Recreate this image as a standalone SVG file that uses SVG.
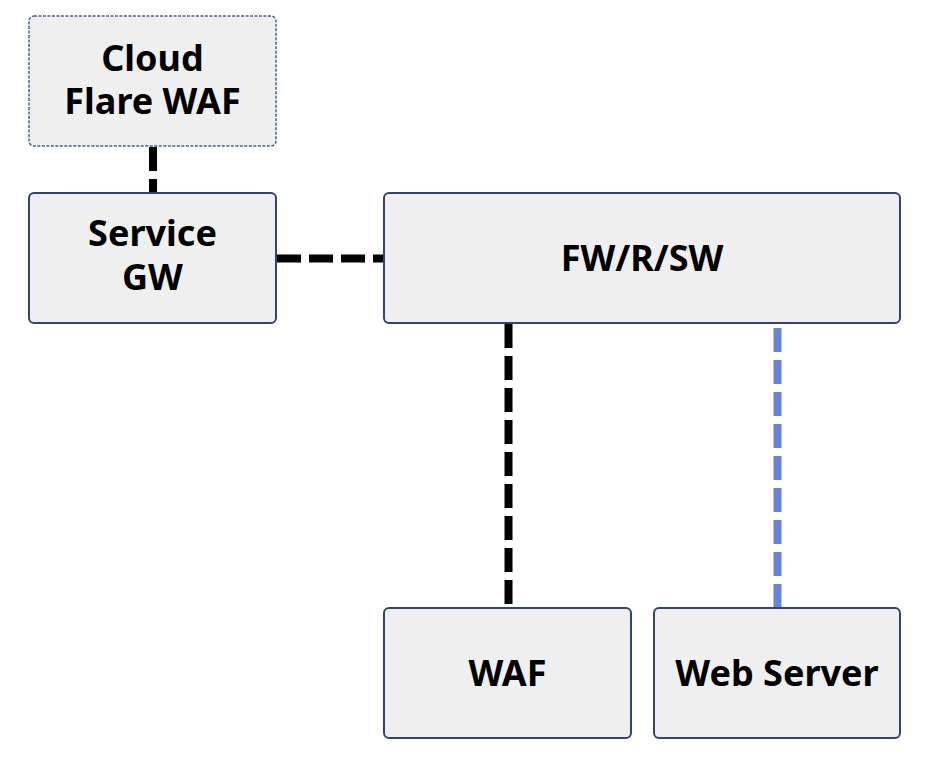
<svg xmlns="http://www.w3.org/2000/svg" width="928" height="764" viewBox="0 0 928 764">
<style>
.box{fill:#efefef;stroke:#34446e;stroke-width:2}
.dbox{fill:#efefef;stroke:#4a5f9a;stroke-width:1.5;stroke-dasharray:3 1.5}
.lbl{font-family:"Source Sans Pro","Noto Sans","Open Sans",sans-serif;font-weight:700;font-size:36px;fill:#000;text-anchor:middle}
.link{fill:none;stroke:#000;stroke-width:8;stroke-dasharray:24 8}
.blue{stroke:#6683d8}
</style>
<rect width="928" height="764" fill="#fff"/>
<g id="connectors">
<line class="link" x1="153" y1="147" x2="153" y2="193"/>
<line class="link" x1="277" y1="258.5" x2="384" y2="258.5"/>
<line class="link" x1="508.5" y1="324" x2="508.5" y2="604"/>
<line class="link blue" x1="777.5" y1="328" x2="777.5" y2="608"/>
</g>
<g id="cloudflare">
<rect class="dbox" x="29" y="16" width="247" height="130" rx="5"/>
<text class="lbl" x="152.5" y="71">Cloud</text>
<text class="lbl" x="152.5" y="114">Flare WAF</text>
</g>
<g id="servicegw">
<rect class="box" x="29" y="193" width="247" height="130" rx="5"/>
<text class="lbl" x="152.5" y="246">Service</text>
<text class="lbl" x="152.5" y="290">GW</text>
</g>
<g id="fwrsw">
<rect class="box" x="384" y="193" width="516" height="130" rx="5"/>
<text class="lbl" x="642" y="271">FW/R/SW</text>
</g>
<g id="waf">
<rect class="box" x="384" y="608" width="247" height="130" rx="5"/>
<text class="lbl" x="507.5" y="686">WAF</text>
</g>
<g id="webserver">
<rect class="box" x="654" y="608" width="246" height="130" rx="5"/>
<text class="lbl" x="777" y="686">Web Server</text>
</g>
</svg>
